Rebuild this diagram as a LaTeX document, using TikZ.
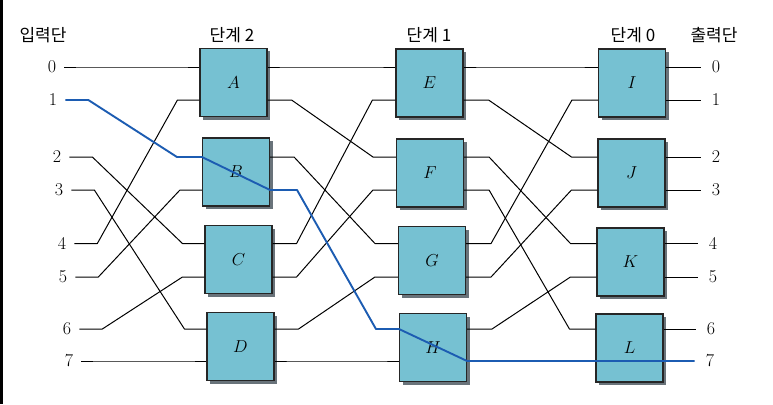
\documentclass[tikz,border=0pt]{standalone}
\usepackage{fontspec}
\newfontfamily\kr{Noto Sans CJK KR}
\usetikzlibrary{calc,shadows}
\definecolor{boxc}{RGB}{118,193,210}
\definecolor{shc}{RGB}{105,115,122}
\definecolor{hlc}{RGB}{28,92,178}
\begin{document}
\begin{tikzpicture}[x=1pt,y=-1pt,
  sw/.style={draw=black!85, line width=1.1pt, fill=boxc, minimum width=67pt, minimum height=68pt, inner sep=0pt,
    general shadow={fill=shc, shadow xshift=3pt, shadow yshift=-3pt}, font=\fontsize{17.5}{20}\selectfont},
  wire/.style={line width=1pt, black, line join=round},
  hl/.style={line width=1.9pt, hlc, line join=round},
  num/.style={font=\fontsize{18}{20}\selectfont, inner sep=0pt},
  stg/.style={font=\kr\fontsize{17}{20}\selectfont, inner sep=0pt}]
\useasboundingbox (0,0) rectangle (773,404);
\fill[white] (0,0) rectangle (773,404);
\fill[black] (0,0) rectangle (3,404);

% rows
\foreach \n/\y in {0/67,1/100,2/157,3/190,4/243.5,5/277,6/329,7/361}
  \coordinate (r\n) at (0,\y);

% headers
\node[stg] (hin)  at (43,35)  {입력단};
\node[stg] (h2)   at (232,35) {단계 2};
\node[stg] (h1)   at (429,35) {단계 1};
\node[stg] (h0)   at (633,35) {단계 0};
\node[stg] (hout) at (714,35) {출력단};

% input labels
\foreach \k/\x/\y in {0/52/67,1/53/100,2/57/157,3/59/190,4/62/243.5,5/63/277,6/67/329,7/69/361}
  \node[num] (i\k) at (\x,\y) {\k};
% output labels
\foreach \k/\x/\y in {0/716/67,1/716/100,2/716/157,3/716/190,4/713/243.5,5/713/277,6/711/329,7/710/361}
  \node[num] (o\k) at (\x,\y) {\k};

% boxes
\node[sw] (A) at (233.5,82.5) {$A$};
\node[sw] (B) at (236,172)    {$B$};
\node[sw] (C) at (238.5,259.5){$C$};
\node[sw] (D) at (240.5,346.5){$D$};
\node[sw] (E) at (429.5,83)   {$E$};
\node[sw] (F) at (430,173)    {$F$};
\node[sw] (G) at (432,260.5)  {$G$};
\node[sw] (H) at (433,347.5)  {$H$};
\node[sw] (I) at (632,83)     {$I$};
\node[sw] (J) at (631.5,173)  {$J$};
\node[sw] (K) at (630.5,262)  {$K$};
\node[sw] (L) at (629.5,348)  {$L$};

% inputs -> stage 2
\foreach \k/\b/\r in {0/A/0,2/C/4,3/D/6,4/A/1,5/B/3,6/C/5,7/D/7}
  \draw[wire] ([xshift=8pt]i\k.east) -- ++(23,0) -- ($(\b.west |- r\r)+(-22,0)$) -- (\b.west |- r\r);

% stage 2 -> stage 1
\foreach \s/\a/\d/\b in {A/0/E/0,A/1/F/2,B/2/G/4,C/4/E/1,C/5/F/3,D/6/G/5,D/7/H/7}
  \draw[wire] (\s.east |- r\a) -- ++(24,0) -- ($(\d.west |- r\b)+(-23,0)$) -- (\d.west |- r\b);

% stage 1 -> stage 0
\foreach \s/\a/\d/\b in {E/0/I/0,E/1/J/2,F/2/K/4,F/3/L/6,G/4/I/1,G/5/J/3,H/6/K/5}
  \draw[wire] (\s.east |- r\a) -- ++(25,0) -- ($(\d.west |- r\b)+(-26,0)$) -- (\d.west |- r\b);

% stage 0 -> outputs
\foreach \b/\r in {I/0,I/1,J/2,J/3,K/4,K/5,L/6}
  \draw[wire] (\b.east |- r\r) -- ([xshift=-11pt]o\r.west);

% highlighted route 1 -> 7
\draw[hl] ([xshift=8pt]i1.east) -- ++(23,0) -- ($(B.west |- r2)+(-25,0)$) -- (B.west |- r2)
  -- (B.east |- r3) -- ++(27,0) -- ($(H.west |- r6)+(-23,0)$) -- (H.west |- r6)
  -- (H.east |- r7) -- ([xshift=-11pt]o7.west);
\end{tikzpicture}
\end{document}
